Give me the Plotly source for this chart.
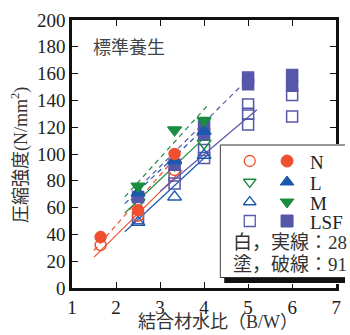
import plotly.graph_objects as go

# ---------------- data ----------------
N_open_x = [1.65, 2.5, 3.33]
N_open_y = [32, 54, 88]
N_fill_x = [1.65, 2.5, 3.33]
N_fill_y = [38, 58, 100]

L_open_x = [2.5, 3.33, 4.0]          # green open down-triangle
L_open_y = [64, 92, 108]
L_fill_x = [2.5, 3.33, 4.0]          # blue filled up-triangle
L_fill_y = [71, 95, 117]

M_open_x = [2.5, 3.33, 4.0]          # blue open up-triangle
M_open_y = [49, 68, 99]
M_fill_x = [2.5, 3.33, 4.0]          # green filled down-triangle
M_fill_y = [76, 118, 125]

LSF_open_x = [2.5, 3.33, 3.33, 4.0, 4.0, 5.0, 5.0, 5.0, 6.0, 6.0]
LSF_open_y = [52, 84, 78, 103, 97, 137, 130, 122, 144, 128]
LSF_fill_x = [2.5, 3.33, 4.0, 4.0, 5.0, 5.0, 6.0, 6.0]
LSF_fill_y = [68, 92, 122, 115, 157, 152, 159, 151]

# regression lines (solid = 28 days, dashed = 91 days)
N_fit_x = [1.5, 3.5];  N_fit28 = [23, 88];   N_fit91 = [28, 103]
G_fit_x = [2.2, 4.1];  G_fit28 = [56, 115];  G_fit91 = [68, 137]
B_fit_x = [2.2, 4.1];  B_fit28 = [42, 100];  B_fit91 = [63, 122]
P28_x = [3.0, 5.2];    P28_y = [72, 133]
P91_x = [2.4, 5.15];   P91_y = [71, 161]

x_ticks = [1, 2, 3, 4, 5, 6, 7]
y_ticks = [0, 20, 40, 60, 80, 100, 120, 140, 160, 180, 200]

ORANGE = "#ef5030"
BLUE = "#1c58ad"
GREEN = "#1b8c40"
PURPLE = "#5757aa"

SERIF = "Liberation Serif, Noto Sans CJK JP"

fig = go.Figure()

def line(x, y, color, dash):
    fig.add_trace(go.Scatter(x=x, y=y, mode="lines", showlegend=False,
                             line=dict(color=color, width=1.2, dash=dash)))

line(N_fit_x, N_fit28, ORANGE, "solid")
line(N_fit_x, N_fit91, ORANGE, "5px,4px")
line(B_fit_x, B_fit28, BLUE, "solid")
line(B_fit_x, B_fit91, BLUE, "5px,4px")
line(G_fit_x, G_fit28, GREEN, "solid")
line(G_fit_x, G_fit91, GREEN, "5px,4px")
line(P28_x, P28_y, PURPLE, "solid")
line(P91_x, P91_y, PURPLE, "5px,4px")

def pts(x, y, symbol, color, size):
    fig.add_trace(go.Scatter(x=x, y=y, mode="markers", showlegend=False, cliponaxis=False,
                             marker=dict(symbol=symbol, size=size, color=color,
                                         line=dict(color=color, width=1.5))))

pts(LSF_open_x, LSF_open_y, "square-open", PURPLE, 11)
pts(M_open_x, M_open_y, "triangle-up-open", BLUE, 12)
pts(L_open_x, L_open_y, "triangle-down-open", GREEN, 12)
pts(N_open_x, N_open_y, "circle-open", ORANGE, 11)
pts(LSF_fill_x, LSF_fill_y, "square", PURPLE, 11)
pts(L_fill_x, L_fill_y, "triangle-up", BLUE, 12)
pts(N_fill_x, N_fill_y, "circle", ORANGE, 11)
pts(M_fill_x, M_fill_y, "triangle-down", GREEN, 12)

# ---------------- legend box on its own small subplot (pixel units) ----------------
W, H = 350, 335
L_M, T_M, B_M = 72, 20, 47
PW = W - L_M
PH = H - T_M - B_M
def px(xp): return (xp - L_M) / PW
def py(yp): return (T_M + PH - yp) / PH

bx0, bx1, by0, by1 = 222, 350, 144, 284
fig.add_trace(go.Scatter(x=[227, 360, 360, 227, 227], y=[150, 150, 283, 283, 150],
                         mode="lines", fill="toself", fillcolor="#111111",
                         line=dict(width=0, color="#111111"),
                         xaxis="x2", yaxis="y2", showlegend=False, hoverinfo="skip"))
fig.add_trace(go.Scatter(x=[223, 360, 360, 223, 223], y=[145, 145, 277.5, 277.5, 145],
                         mode="lines", fill="toself", fillcolor="white",
                         line=dict(width=1, color="#333333"),
                         xaxis="x2", yaxis="y2", showlegend=False, hoverinfo="skip"))

leg_names = ["N", "L", "M", "LSF"]
leg_open = [("circle-open", ORANGE), ("triangle-down-open", GREEN),
            ("triangle-up-open", BLUE), ("square-open", PURPLE)]
leg_fill = [("circle", ORANGE), ("triangle-up", BLUE),
            ("triangle-down", GREEN), ("square", PURPLE)]
row_y = [161, 182, 202, 221]
for i, name in enumerate(leg_names):
    s, c = leg_open[i]
    fig.add_trace(go.Scatter(x=[253], y=[row_y[i]], mode="markers", xaxis="x2", yaxis="y2",
                             showlegend=False, marker=dict(symbol=s, size=11, color=c,
                                                           line=dict(color=c, width=1.3))))
    s, c = leg_fill[i]
    fig.add_trace(go.Scatter(x=[291], y=[row_y[i]], mode="markers", xaxis="x2", yaxis="y2",
                             showlegend=False, marker=dict(symbol=s, size=12, color=c,
                                                           line=dict(color=c, width=1))))
    fig.add_annotation(x=312, y=row_y[i] + 1, xref="x2", yref="y2", text=name,
                       showarrow=False, xanchor="left", yanchor="middle",
                       font=dict(family=SERIF, size=19, color="#222"))

fig.add_annotation(x=234, y=242, xref="x2", yref="y2", text="白，実線：28日",
                   showarrow=False, xanchor="left", yanchor="middle",
                   font=dict(family=SERIF, size=19, color="#333"))
fig.add_annotation(x=234, y=264, xref="x2", yref="y2", text="塗，破線：91日",
                   showarrow=False, xanchor="left", yanchor="middle",
                   font=dict(family=SERIF, size=19, color="#333"))

# ---------------- titles ----------------
fig.add_annotation(x=px(130), y=py(48), xref="paper", yref="paper", text="標準養生",
                   showarrow=False, xanchor="center", yanchor="middle",
                   font=dict(family=SERIF, size=18, color="#444"))
fig.add_annotation(x=px(221), y=py(322), xref="paper", yref="paper",
                   text="結合材水比（B/W）", showarrow=False,
                   xanchor="center", yanchor="middle",
                   font=dict(family=SERIF, size=18, color="#333"))
fig.add_annotation(x=px(19), y=py(155), xref="paper", yref="paper",
                   text="圧縮強度(N/mm<sup>2</sup>)", textangle=-90, showarrow=False,
                   xanchor="center", yanchor="middle",
                   font=dict(family=SERIF, size=18, color="#333"))

axis_common = dict(showline=True, linecolor="#111", linewidth=2.5, mirror="ticks",
                   ticks="inside", ticklen=6, tickwidth=1.2, tickcolor="#111",
                   showgrid=False, zeroline=False,
                   tickfont=dict(family=SERIF, size=19, color="#222"))

fig.update_layout(
    width=W, height=H,
    margin=dict(l=L_M, r=0, t=T_M, b=B_M),
    paper_bgcolor="white", plot_bgcolor="white",
    showlegend=False,
    xaxis=dict(range=[1, 7], tickvals=x_ticks, domain=[0, 269 / PW], **axis_common),
    yaxis=dict(range=[0, 200], tickvals=y_ticks, **axis_common),
    xaxis2=dict(range=[bx0, bx1], domain=[px(bx0), px(bx1)], anchor="y2", visible=False,
                fixedrange=True),
    yaxis2=dict(range=[by1, by0], domain=[py(by1), py(by0)], anchor="x2", visible=False,
                fixedrange=True),
)

fig.write_html("out.html")
